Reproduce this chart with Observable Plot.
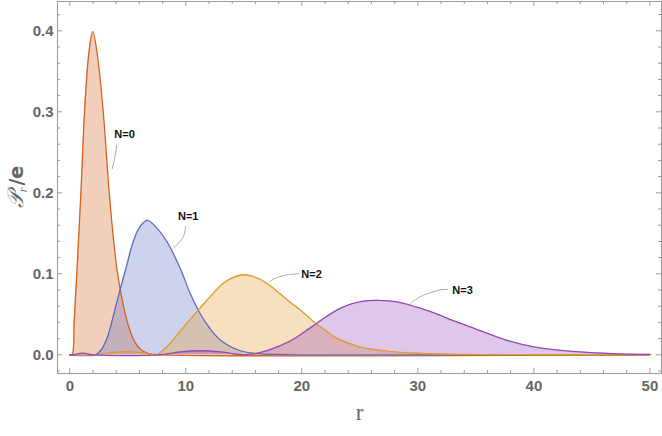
<!DOCTYPE html>
<html><head><meta charset="utf-8">
<script src="https://cdn.jsdelivr.net/npm/d3@7"></script>
<script src="https://cdn.jsdelivr.net/npm/@observablehq/plot@0.6"></script>
<style>body{margin:0;background:#fff} svg{display:block}</style>
</head><body><div id="chart"></div>
<script>
// ---- data ----
const seriesNames = ["N=0", "N=1", "N=2", "N=3"];
const rN0 = [0, 0.2, 0.38, 0.62, 0.98, 1.27, 1.64, 1.98, 2.36, 2.88, 3.36, 3.7, 4.08, 4.6, 5.09, 5.6, 6.1, 6.8, 8, 50];
const pN0 = [0, 0, 0.042, 0.104, 0.207, 0.30, 0.372, 0.399, 0.372, 0.30, 0.207, 0.152, 0.104, 0.062, 0.034, 0.016, 0.0065, 0.0015, 0, 0];
const rN1 = [0, 2.2, 2.65, 3.25, 3.7, 4.2, 4.86, 5.5, 6.0, 6.67, 7.47, 8.4, 9.54, 10.4, 11.27, 12.0, 13.0, 14.7, 16.2, 18, 20, 50];
const pN1 = [0, 0, 0.005, 0.022, 0.045, 0.073, 0.108, 0.141, 0.157, 0.166, 0.157, 0.139, 0.106, 0.075, 0.05, 0.034, 0.018, 0.005, 0.0015, 0.0004, 0, 0];
const rN2 = [0, 2.4, 3.5, 4.9, 6.3, 7.5, 8.0, 8.7, 9.4, 10.1, 11.0, 11.8, 12.5, 13.2, 14.0, 14.86, 15.7, 16.44, 17.3, 18.16, 19.0, 19.9, 21.18, 22.0, 22.76, 24.0, 25.06, 27.36, 29.0, 31.4, 36, 50];
const pN2 = [0, 0, 0.0025, 0.004, 0.0025, 0, 0.005, 0.015, 0.027, 0.039, 0.054, 0.067, 0.078, 0.088, 0.095, 0.0988, 0.097, 0.093, 0.085, 0.075, 0.065, 0.055, 0.039, 0.0305, 0.0225, 0.0145, 0.0095, 0.0045, 0.0026, 0.0012, 0.0003, 0];
const rN3 = [0, 0.3, 1.1, 2.0, 7.8, 9.5, 11.3, 13.0, 15.0, 15.8, 17.0, 18.16, 19.0, 19.9, 20.6, 21.3, 22.0, 22.76, 23.5, 24.2, 25.2, 26.35, 27.5, 28.5, 30.2, 31.5, 33.1, 34.5, 36.0, 38.0, 40.0, 42.3, 44.6, 47.5, 50];
const pN3 = [0, 0, 0.002, 0, 0, 0.0035, 0.005, 0.0035, 0, 0.001, 0.005, 0.0115, 0.017, 0.025, 0.032, 0.039, 0.046, 0.053, 0.0585, 0.0625, 0.066, 0.0672, 0.0665, 0.0645, 0.0575, 0.051, 0.042, 0.0345, 0.0265, 0.0165, 0.0097, 0.0055, 0.003, 0.0012, 0.0005];

const xMajor = [0, 10, 20, 30, 40, 50];
const xMinor = [2, 4, 6, 8, 12, 14, 16, 18, 22, 24, 26, 28, 32, 34, 36, 38, 42, 44, 46, 48];
const yMajor = [0, 0.1, 0.2, 0.3, 0.4];
const yMinor = [-0.02, 0.02, 0.04, 0.06, 0.08, 0.12, 0.14, 0.16, 0.18, 0.22, 0.24, 0.26, 0.28, 0.32, 0.34, 0.36, 0.38, 0.42];

// annotation callouts (label anchor + leader path)
const labelText = ["N=0", "N=1", "N=2", "N=3"];
const labelR = [4.72, 10.21, 20.84, 33.85];
const labelP = [0.272, 0.1707, 0.0991, 0.0794];
const leaderR = [[3.655, 3.94, 4.03], [8.97, 9.83, 9.97], [17.24, 18.88, 19.74], [29.37, 32.1, 32.53]];
const leaderP = [[0.2296, 0.248, 0.2584], [0.1321, 0.1473, 0.1584], [0.0905, 0.0991, 0.1], [0.063, 0.0806, 0.0806]];

// ---- styles ----
const colors = ["#D5611C", "#5E6CC4", "#E2992A", "#9447B5"];
const W = 662, H = 436, mL = 57, mR = 1, mT = 1, mB = 63;
const innerW = W - mL - mR, innerH = H - mT - mB;
const frameColor = "#9a9a9a", textColor = "#666";

const allR = [rN0, rN1, rN2, rN3], allP = [pN0, pN1, pN2, pN3];
const rows = seriesNames.flatMap((n, i) => allR[i].map((r, j) => ({N: n, r, p: allP[i][j]})));
const leaders = seriesNames.flatMap((n, i) => leaderR[i].map((r, j) => ({N: n, r, p: leaderP[i][j]})));
const labels = labelText.map((t, i) => ({t, r: labelR[i], p: labelP[i]}));

const chart = Plot.plot({
  width: W, height: H,
  marginLeft: mL, marginRight: mR, marginTop: mT, marginBottom: mB,
  style: {fontFamily: "'Liberation Sans', Arial, sans-serif", background: "#fff"},
  x: {domain: [-1.06, 51.0]},
  y: {domain: [-0.0231, 0.4362]},
  marks: [
    ...seriesNames.map((n, i) => Plot.areaY(rows.filter(d => d.N === n), {x: "r", y: "p", fill: colors[i], fillOpacity: 0.3, curve: "catmull-rom"})),
    ...seriesNames.map((n, i) => Plot.lineY(rows.filter(d => d.N === n), {x: "r", y: "p", stroke: colors[i], strokeWidth: 1.3, curve: "catmull-rom"})),
    Plot.frame({stroke: frameColor}),
    Plot.tickX(xMajor, {x: d => d, stroke: frameColor, insetTop: innerH - 5}),
    Plot.tickX(xMinor, {x: d => d, stroke: frameColor, insetTop: innerH - 3}),
    Plot.tickX(xMajor, {x: d => d, stroke: frameColor, insetBottom: innerH - 5}),
    Plot.tickX(xMinor, {x: d => d, stroke: frameColor, insetBottom: innerH - 3}),
    Plot.tickY(yMajor, {y: d => d, stroke: frameColor, insetRight: innerW - 5}),
    Plot.tickY(yMinor, {y: d => d, stroke: frameColor, insetRight: innerW - 3}),
    Plot.tickY(yMajor, {y: d => d, stroke: frameColor, insetLeft: innerW - 5}),
    Plot.tickY(yMinor, {y: d => d, stroke: frameColor, insetLeft: innerW - 3}),
    Plot.axisX(xMajor, {tickSize: 0, tickPadding: 7, fontSize: 15, fontWeight: "bold", fill: textColor, label: null}),
    Plot.axisY(yMajor, {tickSize: 0, tickPadding: 4, fontSize: 15, fontWeight: "bold", fill: textColor, label: null, tickFormat: d => d.toFixed(1)}),
    Plot.line(leaders, {x: "r", y: "p", z: "N", stroke: "#aaa", strokeWidth: 1, curve: "monotone-y"}),
    Plot.text(labels, {x: "r", y: "p", text: "t", fontSize: 11, fontWeight: "bold", fill: "#111"}),
    Plot.text(["r"], {frameAnchor: "bottom", dy: 46, text: d => d, fontSize: 23, fontFamily: "'Liberation Serif', 'Times New Roman', serif", fill: textColor})
  ]
});
document.getElementById("chart").appendChild(chart);

// y-axis title with subscript
const t = d3.select(chart).append("text")
  .attr("transform", "translate(23,187) rotate(-90)")
  .attr("text-anchor", "middle").attr("fill", textColor);
t.append("tspan").attr("font-family", "'DejaVu Serif', serif").attr("font-style", "italic").attr("font-size", 22).text("𝒫");
t.append("tspan").attr("font-family", "'Liberation Serif', serif").attr("font-style", "italic").attr("font-size", 12).attr("dy", 4).text("r");
t.append("tspan").attr("font-family", "'DejaVu Sans', sans-serif").attr("font-weight", "bold").attr("font-size", 19).attr("dy", -4).attr("dx", 2).text("/e");
</script>
</body></html>
